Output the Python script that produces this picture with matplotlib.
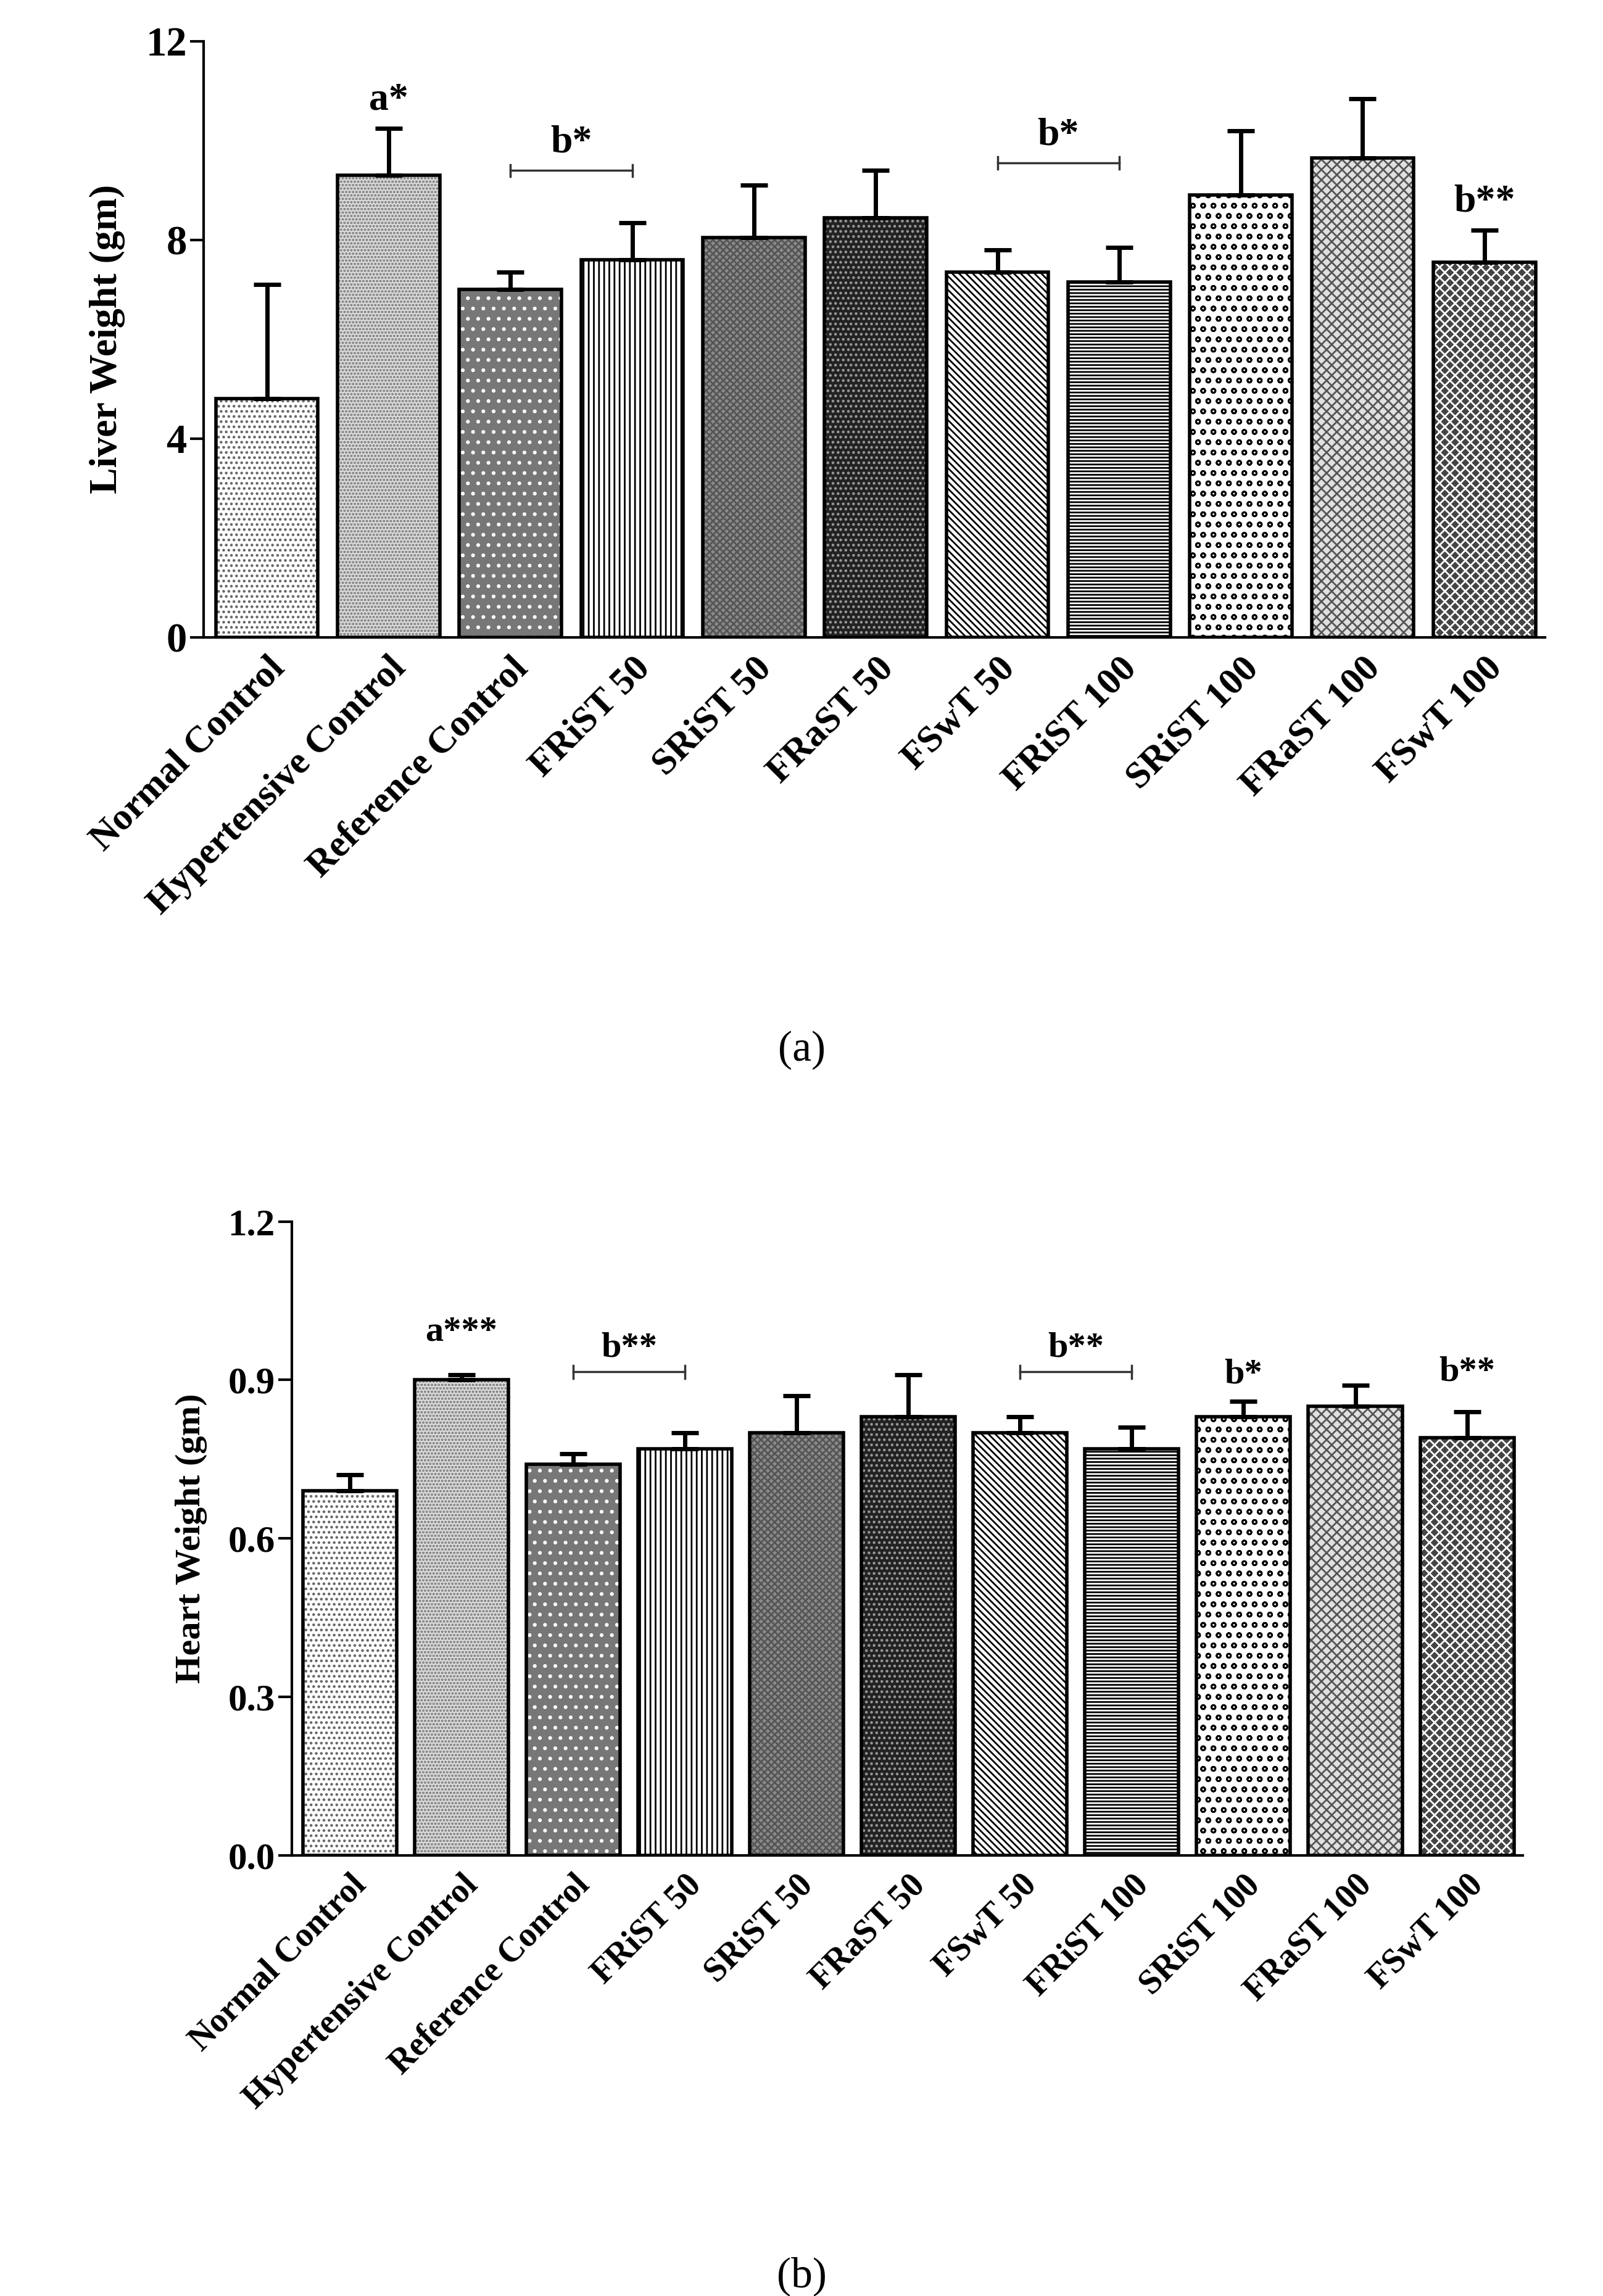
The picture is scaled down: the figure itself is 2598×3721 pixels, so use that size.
import matplotlib
matplotlib.use('Agg')
import matplotlib.pyplot as plt
import numpy as np

groups = ['Normal Control', 'Hypertensive Control', 'Reference Control', 'FRiST 50',
          'SRiST 50', 'FRaST 50', 'FSwT 50', 'FRiST 100', 'SRiST 100', 'FRaST 100', 'FSwT 100']
liver = [4.8, 9.3, 7.0, 7.6, 8.05, 8.45, 7.35, 7.15, 8.9, 9.65, 7.55]
liver_err = [2.3, 0.95, 0.35, 0.75, 1.05, 0.95, 0.45, 0.7, 1.3, 1.2, 0.65]
heart = [0.69, 0.90, 0.74, 0.77, 0.80, 0.83, 0.80, 0.77, 0.83, 0.85, 0.79]
heart_err = [0.03, 0.01, 0.02, 0.03, 0.07, 0.08, 0.03, 0.04, 0.03, 0.04, 0.05]

faces = ['white', '#dddddd', '#777777', 'white', '#8a8a8a', '#222222',
         'white', 'white', 'white', '#e0e0e0', '#444444']
hatches = ['..', '...', '.', '||', 'xxx', '..', '\\\\\\', '---', 'o', 'xx', 'xx']
hcolors = ['#666666', '#777777', 'white', 'black', '#555555', '#999999',
           'black', 'black', 'black', '#555555', 'white']

plt.rcParams['font.family'] = ['Liberation Serif', 'DejaVu Serif']
plt.rcParams['font.weight'] = 'bold'
plt.rcParams['hatch.linewidth'] = 2.0

fig = plt.figure(figsize=(25.98, 37.21), dpi=100)


def panel(rect, vals, errs, ylim, yticks, yfmt, ylabel, notes, brackets, fs):
    ax = fig.add_axes(rect)
    x = np.arange(len(vals))
    for i in x:
        ax.bar(i, vals[i], width=0.84, facecolor=faces[i], edgecolor=hcolors[i],
               hatch=hatches[i], linewidth=0, zorder=2)
        ax.bar(i, vals[i], width=0.84, facecolor='none', edgecolor='black',
               linewidth=4, zorder=3)
    ax.errorbar(x, vals, yerr=[np.zeros(len(errs)), errs], fmt='none',
                ecolor='black', elinewidth=5, capsize=16, capthick=5, zorder=4)
    ax.set_xlim(-0.52, 10.5)
    ax.set_ylim(*ylim)
    ax.set_yticks(yticks)
    ax.set_yticklabels([yfmt.format(t) for t in yticks], fontsize=fs + 4, fontweight='bold')
    ax.set_xticks(x)
    ax.set_xticklabels(groups, rotation=45, ha='right', rotation_mode='anchor',
                       fontsize=fs, fontweight='bold')
    ax.tick_params(axis='x', length=0, pad=16)
    ax.tick_params(axis='y', length=16, width=3, direction='out')
    for s in ['top', 'right']:
        ax.spines[s].set_visible(False)
    for s in ['left', 'bottom']:
        ax.spines[s].set_linewidth(3)
    ax.set_ylabel(ylabel, fontsize=fs + 2, fontweight='bold', labelpad=24)
    for xi, yi, t in notes:
        ax.text(xi, yi, t, ha='center', va='bottom', fontsize=fs + 2, fontweight='bold')
    for x0, x1, yb, t, yt in brackets:
        ax.plot([x0, x1], [yb, yb], color='#333333', lw=2.5)
        ax.plot([x0, x0], [yb - ylim[1] * 0.01, yb + ylim[1] * 0.01], color='#333333', lw=2.5)
        ax.plot([x1, x1], [yb - ylim[1] * 0.01, yb + ylim[1] * 0.01], color='#333333', lw=2.5)
        ax.text((x0 + x1) / 2, yt, t, ha='center', va='bottom', fontsize=fs + 2, fontweight='bold')
    return ax


panel([0.127, 0.7225, 0.837, 0.2595], liver, liver_err, (0, 12), [0, 4, 8, 12], '{:.0f}',
      'Liver Weight (gm)', [(1, 10.45, 'a*'), (10, 8.4, 'b**')],
      [(2, 3, 9.4, 'b*', 9.6), (6, 7, 9.55, 'b*', 9.75)], 44)
panel([0.182, 0.192, 0.768, 0.276], heart, heart_err, (0, 1.2), [0, 0.3, 0.6, 0.9, 1.2], '{:.1f}',
      'Heart Weight (gm)', [(1, 0.96, 'a***'), (8, 0.88, 'b*'), (10, 0.885, 'b**')],
      [(2, 3, 0.915, 'b**', 0.93), (6, 7, 0.915, 'b**', 0.93)], 40)

fig.text(0.5, 0.538, '(a)', ha='center', fontsize=50, fontweight='normal')
fig.text(0.5, 0.004, '(b)', ha='center', fontsize=50, fontweight='normal')
fig.savefig('out.png', dpi=100, facecolor='white')
